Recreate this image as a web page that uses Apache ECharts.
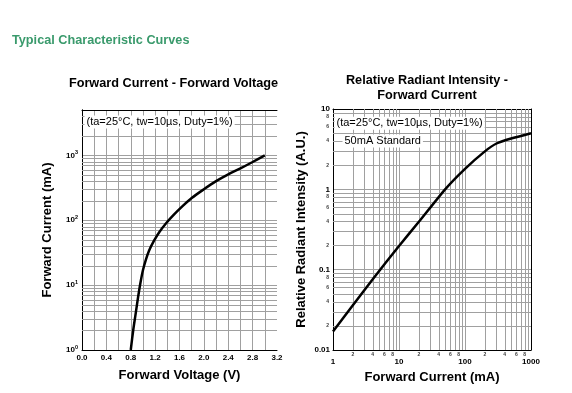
<!DOCTYPE html>
<html><head><meta charset="utf-8">
<script src="https://cdn.jsdelivr.net/npm/echarts@6/dist/echarts.min.js"></script>
<style>html,body{margin:0;padding:0;background:#fff}#c{width:572px;height:393px}</style>
</head><body><div id="c"></div>
<script>
// ---- Data ----
const fvVoltage = [0.80, 0.84, 0.88, 0.92, 0.96, 1.00, 1.05, 1.10, 1.18, 1.27, 1.38, 1.50, 1.65, 1.80, 2.00, 2.20, 2.40, 2.60, 2.80, 3.00];
const fvCurrent = [1.0, 2.0, 3.6, 6.5, 11, 17, 25, 34, 48, 66, 90, 120, 165, 220, 300, 400, 510, 630, 790, 1000];

const riCurrent   = [1, 2, 4, 10, 20, 50, 100, 200, 300, 500, 1000];
const riIntensity = [0.017, 0.036, 0.076, 0.197, 0.394, 1.0, 1.8, 2.97, 3.72, 4.29, 5.0];

// tick labels
const fvXTickLabels = ['0.0','0.4','0.8','1.2','1.6','2.0','2.4','2.8','3.2'];
const fvYExponents  = ['0','1','2','3'];
const riXTickLabels = ['1','10','100','1000'];
const riYTickLabels = ['0.01','0.1','1','10'];
const riMinorXValues = [2,4,6,8,20,40,60,80,200,400,600,800];
const riMinorXLabels = ['2','4','6','8','2','4','6','8','2','4','6','8'];
const riMinorYValues = [0.02,0.04,0.06,0.08,0.2,0.4,0.6,0.8,2,4,6,8];
const riMinorYLabels = ['2','4','6','8','2','4','6','8','2','4','6','8'];

// ---- helpers ----
const F = "'Liberation Sans', Arial, Helvetica, sans-serif";
const GRID = '#a0a0a0';
function minorDecades(startPow, endPow, extra) {
  const out = [];
  for (let p = startPow; p < endPow; p++) for (let m = 2; m <= 9; m++) out.push(+(m * Math.pow(10, p)).toPrecision(6));
  return out.concat(extra || []);
}
const fvMinorY = minorDecades(0, 3, [2000, 3000, 4000]);
const riMinorX = minorDecades(0, 3);
const riMinorY = minorDecades(-2, 1);

function frameAxis(grid, type, min, max, pos) {
  return { gridIndex: grid, type: type, min: min, max: max, position: pos,
    axisLine: { show: true, lineStyle: { color: '#000', width: 1 } },
    axisTick: { show: false }, axisLabel: { show: false }, splitLine: { show: false } };
}
const split = { show: true, showMinLine: false, showMaxLine: false, lineStyle: { color: GRID, width: 1 } };
const axLine = { show: true, lineStyle: { color: '#000', width: 1 } };
const nameStyle = { fontFamily: F, fontSize: 13, fontWeight: 'bold', color: '#000' };
const lbl = { fontFamily: F, fontSize: 8, fontWeight: 'bold', color: '#000' };

function hGrid(xi, yi, xRef, vals) {
  return { type: 'custom', xAxisIndex: xi, yAxisIndex: yi, silent: true, z: 1, clip: false,
    data: vals.map(v => [xRef, v]),
    renderItem: (params, api) => {
      const cs = params.coordSys;
      const y = Math.round(api.coord([api.value(0), api.value(1)])[1]) + 0.5;
      return { type: 'line', shape: { x1: cs.x, y1: y, x2: cs.x + cs.width, y2: y }, style: { stroke: GRID, lineWidth: 1 } };
    } };
}
function vGrid(xi, yi, yRef, vals) {
  return { type: 'custom', xAxisIndex: xi, yAxisIndex: yi, silent: true, z: 1, clip: false,
    data: vals.map(v => [v, yRef]),
    renderItem: (params, api) => {
      const cs = params.coordSys;
      const x = Math.round(api.coord([api.value(0), api.value(1)])[0]) + 0.5;
      return { type: 'line', shape: { x1: x, y1: cs.y, x2: x, y2: cs.y + cs.height }, style: { stroke: GRID, lineWidth: 1 } };
    } };
}
function logIdx(v) { const e = Math.log10(v); const r = Math.round(e); return Math.abs(e - r) < 1e-3 ? r : null; }

const chart = echarts.init(document.getElementById('c'), null, { renderer: 'canvas' });
chart.setOption({
  animation: false,
  backgroundColor: '#fff',
  grid: [
    { left: 82, top: 110, width: 195, height: 240 },
    { left: 333, top: 109, width: 198, height: 241 }
  ],
  xAxis: [
    { gridIndex: 0, type: 'value', min: 0, max: 3.2, interval: 0.2, position: 'bottom',
      axisLine: axLine, axisTick: { show: false }, splitLine: split,
      axisLabel: Object.assign({ margin: 4, formatter: v => { const n = Math.round(v * 10); return n % 4 === 0 ? fvXTickLabels[n / 4] : ''; } }, lbl),
      name: 'Forward Voltage (V)', nameLocation: 'middle', nameGap: 19, nameTextStyle: nameStyle },
    frameAxis(0, 'value', 0, 3.2, 'top'),
    { gridIndex: 1, type: 'log', logBase: 10, min: 1, max: 1000, position: 'bottom',
      axisLine: axLine, axisTick: { show: false }, splitLine: split,
      axisLabel: Object.assign({ margin: 8, formatter: v => { const r = logIdx(v); return r === null ? '' : riXTickLabels[r]; } }, lbl),
      name: 'Forward Current (mA)', nameLocation: 'middle', nameGap: 19, nameTextStyle: nameStyle },
    frameAxis(1, 'log', 1, 1000, 'top')
  ],
  yAxis: [
    { gridIndex: 0, type: 'log', logBase: 10, min: 1, max: 5000, position: 'left',
      axisLine: axLine, axisTick: { show: false }, splitLine: split,
      axisLabel: { margin: 4, formatter: v => { const r = logIdx(v); return r === null ? '' : '{b|10}{s|' + fvYExponents[r] + '}'; },
        rich: { b: { fontFamily: F, fontSize: 8, fontWeight: 'bold', color: '#000', lineHeight: 12 },
                s: { fontFamily: F, fontSize: 5.5, fontWeight: 'bold', color: '#000', verticalAlign: 'top', lineHeight: 6 } } },
      name: 'Forward Current (mA)', nameLocation: 'middle', nameGap: 28, nameTextStyle: nameStyle },
    frameAxis(0, 'log', 1, 5000, 'right'),
    { gridIndex: 1, type: 'log', logBase: 10, min: 0.01, max: 10, position: 'left',
      axisLine: axLine, axisTick: { show: false }, splitLine: split,
      axisLabel: Object.assign({ margin: 3, formatter: v => { const r = logIdx(v); return r === null ? '' : riYTickLabels[r + 2]; } }, lbl),
      name: 'Relative Radiant Intensity (A.U.)', nameLocation: 'middle', nameGap: 25, nameTextStyle: nameStyle },
    frameAxis(1, 'log', 0.01, 10, 'right')
  ],
  series: [
    hGrid(0, 0, 0, fvMinorY),
    vGrid(2, 2, 0.01, riMinorX),
    hGrid(2, 2, 1, riMinorY),
    { type: 'line', xAxisIndex: 0, yAxisIndex: 0, z: 5, silent: true, smooth: 0.3, symbol: 'none',
      lineStyle: { color: '#000', width: 2.5 }, data: fvVoltage.map((v, i) => [v, fvCurrent[i]]) },
    { type: 'line', xAxisIndex: 2, yAxisIndex: 2, z: 5, silent: true, smooth: 0.2, symbol: 'none',
      lineStyle: { color: '#000', width: 2.5 }, data: riCurrent.map((v, i) => [v, riIntensity[i]]) },
    { type: 'scatter', xAxisIndex: 2, yAxisIndex: 2, symbolSize: 0, clip: false, silent: true, z: 6,
      data: riMinorXValues.map((v, i) => ({ value: [v, 0.01], name: riMinorXLabels[i] })),
      label: { show: true, position: 'bottom', distance: 2, formatter: p => p.name, fontFamily: F, fontSize: 5, fontWeight: 'bold', color: '#000' } },
    { type: 'scatter', xAxisIndex: 2, yAxisIndex: 2, symbolSize: 0, clip: false, silent: true, z: 6,
      data: riMinorYValues.map((v, i) => ({ value: [1, v], name: riMinorYLabels[i] })),
      label: { show: true, position: 'left', distance: 4, formatter: p => p.name, fontFamily: F, fontSize: 5, fontWeight: 'bold', color: '#000' } }
  ],
  graphic: [
    { type: 'text', x: 12, y: 40, z: 10, style: { text: 'Typical Characteristic Curves', fill: '#3a9a6c', fontFamily: F, fontSize: 12.7, fontWeight: 'bold', align: 'left', verticalAlign: 'middle' } },
    { type: 'text', x: 173.5, y: 83, z: 10, style: { text: 'Forward Current - Forward Voltage', fill: '#000', fontFamily: F, fontSize: 12.7, fontWeight: 'bold', align: 'center', verticalAlign: 'middle' } },
    { type: 'text', x: 427, y: 80.5, z: 10, style: { text: 'Relative Radiant Intensity -', fill: '#000', fontFamily: F, fontSize: 12.7, fontWeight: 'bold', align: 'center', verticalAlign: 'middle' } },
    { type: 'text', x: 427, y: 95, z: 10, style: { text: 'Forward Current', fill: '#000', fontFamily: F, fontSize: 12.7, fontWeight: 'bold', align: 'center', verticalAlign: 'middle' } },
    { type: 'text', x: 84.5, y: 122, z: 10, style: { text: '(ta=25°C, tw=10µs, Duty=1%)', fill: '#000', fontFamily: F, fontSize: 11, align: 'left', verticalAlign: 'middle', backgroundColor: '#fff', padding: [1, 2] } },
    { type: 'text', x: 334.5, y: 123.3, z: 10, style: { text: '(ta=25°C, tw=10µs, Duty=1%)', fill: '#000', fontFamily: F, fontSize: 11, align: 'left', verticalAlign: 'middle', backgroundColor: '#fff', padding: [1, 2] } },
    { type: 'text', x: 342.5, y: 141, z: 10, style: { text: '50mA Standard', fill: '#000', fontFamily: F, fontSize: 11, align: 'left', verticalAlign: 'middle', backgroundColor: '#fff', padding: [1, 2] } }
  ]
});
</script></body></html>
